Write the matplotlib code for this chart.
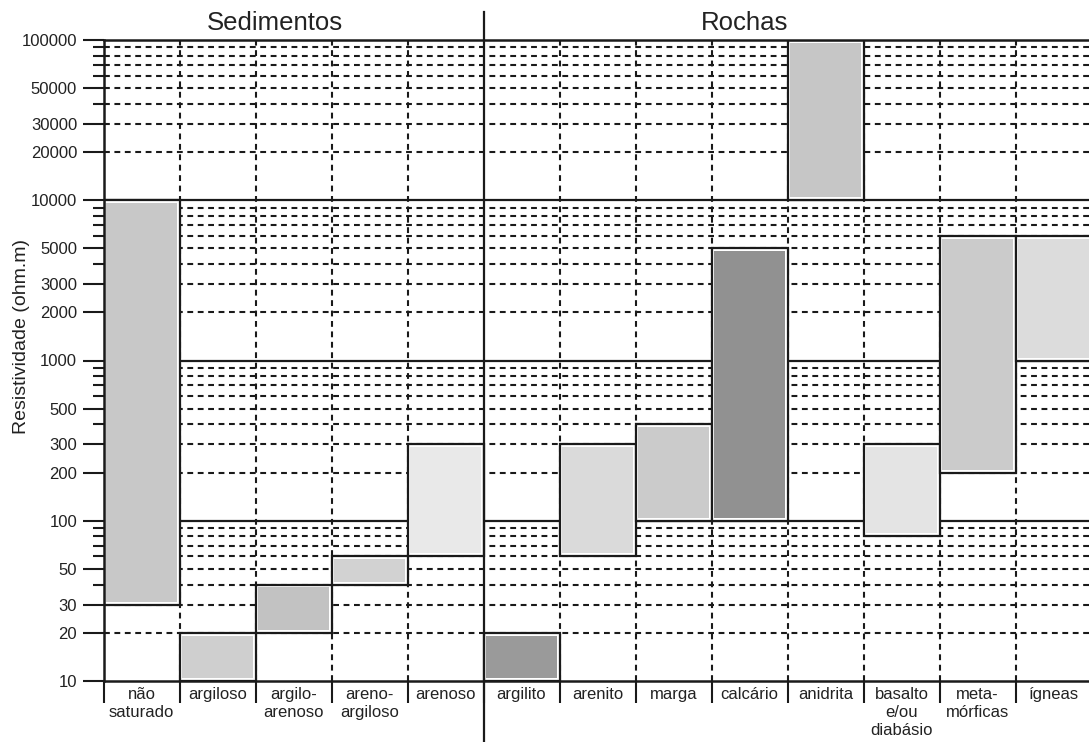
import matplotlib.pyplot as plt
import numpy as np
from matplotlib.ticker import NullFormatter

plt.rcParams['font.family'] = ['Liberation Sans', 'DejaVu Sans']

# Faixas de resistividade por tipo de material
categorias = ['não\nsaturado', 'argiloso', 'argilo-\narenoso', 'areno-\nargiloso', 'arenoso',
              'argilito', 'arenito', 'marga', 'calcário', 'anidrita',
              'basalto\ne/ou\ndiabásio', 'meta-\nmórficas', 'ígneas']
res_min = [30, 10, 20, 40, 60, 10, 60, 100, 100, 10000, 80, 200, 1000]
res_max = [10000, 20, 40, 60, 300, 20, 300, 400, 5000, 100000, 300, 6000, 6000]
cores = ['#c8c8c8', '#cfcfcf', '#c2c2c2', '#d2d2d2', '#e9e9e9',
         '#9a9a9a', '#dadada', '#cbcbcb', '#919191', '#c6c6c6',
         '#e4e4e4', '#cbcbcb', '#dcdcdc']
marcas_y = [10, 20, 30, 50, 100, 200, 300, 500, 1000, 2000, 3000,
            5000, 10000, 20000, 30000, 50000, 100000]
n_sedimentos = 5

W, H = 1089, 742
fig = plt.figure(figsize=(W / 100, H / 100), dpi=100)
ax = fig.add_axes([103.5 / W, 61 / H, 988 / W, 641 / H])

n = len(categorias)
ax.set_yscale('log')
ax.set_xlim(0, n)
ax.set_ylim(10, 100000)

cor_linha = '#1a1a1a'
tracejado = (0, (2.8, 2.2))

# linhas horizontais: contínuas nas décadas, tracejadas no resto
decadas = [10, 100, 1000, 10000]
menores = []
for d in decadas:
    for k in range(2, 10):
        v = k * d
        menores.append(v)
        ax.axhline(v, color=cor_linha, lw=1.5, ls=tracejado, zorder=1)
for d in [100, 1000, 10000]:
    ax.axhline(d, color=cor_linha, lw=1.6, zorder=1.5)

# linhas verticais entre as colunas
for i in range(1, n):
    if i == n_sedimentos:
        continue
    ax.axvline(i, color=cor_linha, lw=1.5, ls=tracejado, zorder=1)

# separação Sedimentos / Rochas
ax.axvline(n_sedimentos, ymin=-0.095, ymax=1.044, color=cor_linha, lw=1.6,
           clip_on=False, zorder=5)

# barras: contorno preto e preenchimento um pouco recuado
x = np.arange(n) + 0.5
lo = np.array(res_min, dtype=float)
hi = np.array(res_max, dtype=float)
ax.bar(x, hi - lo, bottom=lo, width=1.0, color='white',
       edgecolor=cor_linha, lw=1.6, zorder=3)
recuo = 10 ** 0.018
ax.bar(x, hi / recuo - lo * recuo, bottom=lo * recuo, width=0.93,
       color=cores, lw=0, zorder=4)

# eixos
for lado in ['top', 'left', 'bottom']:
    ax.spines[lado].set_linewidth(1.8)
    ax.spines[lado].set_color(cor_linha)
    ax.spines[lado].set_zorder(6)
ax.spines['right'].set_visible(False)

ax.set_yticks(marcas_y)
ax.set_yticklabels([str(v) for v in marcas_y])
ax.set_yticks(menores, minor=True)
ax.yaxis.set_minor_formatter(NullFormatter())
ax.tick_params(axis='y', which='major', length=15, width=1.5,
               color=cor_linha, labelsize=12, pad=4, labelcolor='#222222')
ax.tick_params(axis='y', which='minor', length=8, width=1.5, color=cor_linha)

ax.set_xticks(x)
ax.set_xticklabels(categorias)
ax.set_xticks(np.arange(n + 1), minor=True)
ax.tick_params(axis='x', which='major', length=0, pad=4, labelsize=12,
               labelcolor='#222222')
ax.tick_params(axis='x', which='minor', length=16, width=1.5, color=cor_linha)
for t in ax.get_xticklabels():
    t.set_linespacing(1.28)

fig.text(22 / W, 1 - 337 / H, 'Resistividade (ohm.m)', rotation=90,
         ha='center', va='center', fontsize=14, color='#222222')
fig.text(275 / W, 1 - 23 / H, 'Sedimentos', ha='center', va='center',
         fontsize=18.5, color='#222222')
fig.text(745 / W, 1 - 23 / H, 'Rochas', ha='center', va='center',
         fontsize=18.5, color='#222222')

fig.savefig('out.png', dpi=100)
